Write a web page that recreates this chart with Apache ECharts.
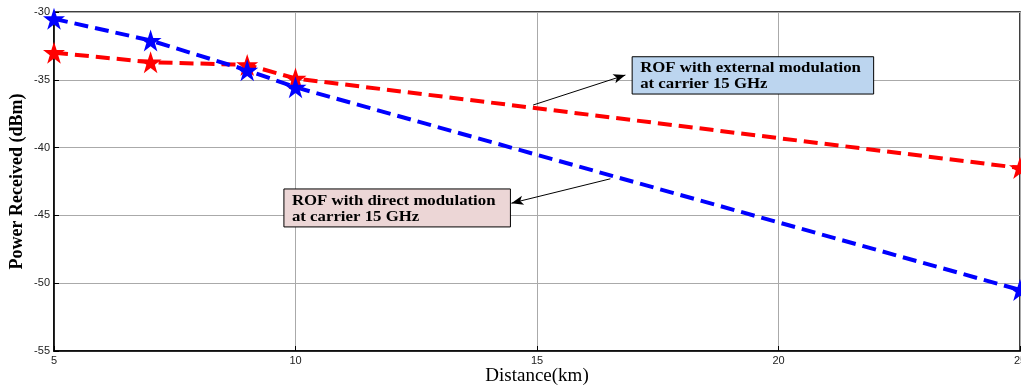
<!DOCTYPE html>
<html>
<head>
<meta charset="utf-8">
<script src="https://cdn.jsdelivr.net/npm/echarts@6/dist/echarts.min.js"></script>
<style>
  html, body { margin: 0; padding: 0; background: #fff; }
  #chart { width: 1021px; height: 388px; }
</style>
</head>
<body>
<div id="chart"></div>
<script>
// Distance (km) at which received power was measured
const distances = [5, 7, 9, 10, 25];
// Received power (dBm), external modulation at 15 GHz carrier
const externalMod = [-33.0, -33.7, -33.9, -34.9, -41.5];
// Received power (dBm), direct modulation at 15 GHz carrier
const directMod = [-30.5, -32.1, -34.3, -35.55, -50.5];
// Axis ticks
const xTicks = [5, 10, 15, 20, 25];
const yTicks = [-55, -50, -45, -40, -35, -30];

// Annotation texts
const externalNote = ['ROF with external modulation', 'at carrier 15 GHz'];
const directNote = ['ROF with direct modulation', 'at carrier 15 GHz'];

const pairs = (xs, ys) => xs.map((x, i) => [x, ys[i]]);

const chart = echarts.init(document.getElementById('chart'));

const starPath = 'path://M50,0 L61.8,35.1 L98.9,35.1 L68.9,56.9 L80.3,91.9 L50,70.2 L19.7,91.9 L31.1,56.9 L1.1,35.1 L38.2,35.1 Z';

function arrowLine(from, to) {
  return [
    { coord: from, symbol: 'none' },
    { coord: to, symbol: 'arrow', symbolSize: [7, 12] }
  ];
}

const axisCommon = {
  nameMoveOverlap: false,
  axisLine: { show: true, lineStyle: { color: '#000', width: 1.5 } },
  axisTick: { show: true, inside: true, length: 5, lineStyle: { color: '#000' } },
  axisLabel: { fontFamily: 'Liberation Sans', fontSize: 11, color: '#222', margin: 4 },
  splitLine: { show: true, lineStyle: { color: '#aaaaaa', width: 1 } }
};

const option = {
  animation: false,
  backgroundColor: '#fff',
  grid: { left: 54, right: 1, top: 12, bottom: 37, containLabel: false,
          outerBoundsMode: 'none',
          show: true, borderColor: '#000', borderWidth: 1.5 },
  xAxis: Object.assign({
    type: 'value', min: xTicks[0], max: xTicks[xTicks.length - 1], interval: 5,
    name: 'Distance(km)', nameLocation: 'middle', nameGap: 16,
    nameTextStyle: { fontFamily: 'Liberation Serif', fontSize: 19, color: '#000' }
  }, axisCommon),
  yAxis: Object.assign({
    type: 'value', min: yTicks[0], max: yTicks[yTicks.length - 1], interval: 5,
    name: 'Power Received (dBm)', nameLocation: 'middle', nameGap: 28,
    nameTextStyle: { fontFamily: 'Liberation Serif', fontSize: 18, fontWeight: 'bold', color: '#000' }
  }, axisCommon),
  series: [
    {
      name: 'external', type: 'line', data: pairs(distances, externalMod),
      symbol: starPath, symbolSize: 22, clip: false,
      lineStyle: { color: '#ff0000', width: 4, type: [14, 7] },
      itemStyle: { color: '#ff0000' },
      markLine: {
        silent: true, animation: false, label: { show: false },
        lineStyle: { color: '#000', width: 1, type: 'solid' },
        data: [arrowLine([14.92, -36.86], [16.83, -34.65])]
      }
    },
    {
      name: 'direct', type: 'line', data: pairs(distances, directMod),
      symbol: starPath, symbolSize: 22, clip: false,
      lineStyle: { color: '#0000ff', width: 4, type: [14, 7] },
      itemStyle: { color: '#0000ff' },
      markLine: {
        silent: true, animation: false, label: { show: false },
        lineStyle: { color: '#000', width: 1, type: 'solid' },
        data: [arrowLine([16.52, -42.3], [14.47, -44.1])]
      }
    }
  ]
};

chart.setOption(option);

// Text boxes placed in data coordinates
function noteBox(topLeft, bottomRight, lines, fill) {
  const p1 = chart.convertToPixel({ gridIndex: 0 }, topLeft);
  const p2 = chart.convertToPixel({ gridIndex: 0 }, bottomRight);
  return {
    type: 'group', z: 100,
    children: [
      { type: 'rect', shape: { x: p1[0], y: p1[1], width: p2[0] - p1[0], height: p2[1] - p1[1] },
        style: { fill: fill, stroke: '#000', lineWidth: 1 },
        z: 100 },
      { type: 'text', x: p1[0] + 8, y: p1[1] + 4, z: 101, scaleX: 1.2,
        style: { text: lines.join('\n'), fill: '#000',
                 font: 'bold 14px "Liberation Serif"', lineHeight: 16 } }
    ]
  };
}

chart.setOption({
  graphic: [
    noteBox([16.97, -33.3], [21.97, -36.05], externalNote, '#bcd5ef'),
    noteBox([9.76, -43.05], [14.45, -45.85], directNote, '#ecd6d6')
  ]
});
</script>
</body>
</html>
